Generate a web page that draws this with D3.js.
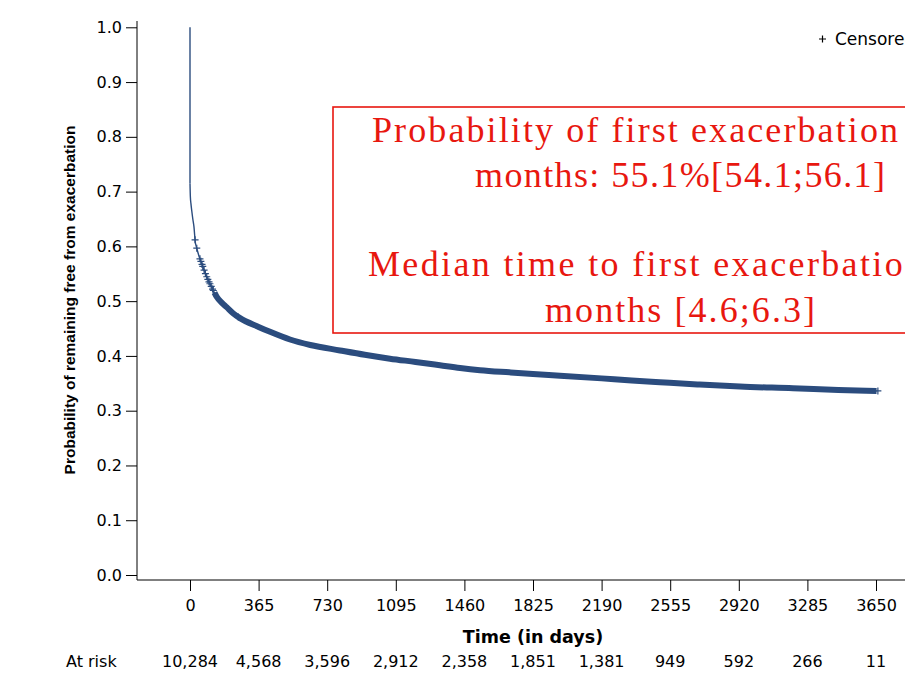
<!DOCTYPE html>
<html lang="en">
<head>
    <meta charset="UTF-8">
    <title>Time to first exacerbation</title>
    <script src="https://d3js.org/d3.v7.min.js"></script>
    <style>
        body { margin: 0; background: #fff; }
        svg { display: block; }
    </style>
</head>
<body>
    <div id="chart"></div>
    <script>
        // Kaplan-Meier estimate (days, survival)
        // the first point is the value before the drop at day 0
        const kmTime = [0, 0, 2, 5, 9, 15, 21, 28, 35, 48, 62, 80, 97, 120, 142, 170, 195, 229, 266, 365, 426, 532, 640, 798, 930, 1064, 1200, 1330, 1437, 1543, 1700, 1825, 1969, 2190, 2350, 2500, 2700, 2926, 3208, 3450, 3653];
        const kmSurv = [1.0, 0.715, 0.69, 0.678, 0.666, 0.65, 0.636, 0.608, 0.598, 0.582, 0.569, 0.552, 0.538, 0.522, 0.508, 0.497, 0.489, 0.478, 0.469, 0.453, 0.444, 0.430, 0.420, 0.410, 0.402, 0.395, 0.389, 0.383, 0.378, 0.374, 0.370, 0.367, 0.364, 0.359, 0.355, 0.352, 0.348, 0.344, 0.341, 0.338, 0.336];

        // sparse censoring early on, then so dense it forms a band
        const censorTimes = [27, 36, 53, 58, 64, 68, 75, 82, 89, 95, 101, 106, 113, 120, 124, 257, 3660];
        const denseCensorFrom = 130;

        const xTicks = [0, 365, 730, 1095, 1460, 1825, 2190, 2555, 2920, 3285, 3650];
        const atRisk = ["10,284", "4,568", "3,596", "2,912", "2,358", "1,851", "1,381", "949", "592", "266", "11"];
        const yTicks = [0, 0.1, 0.2, 0.3, 0.4, 0.5, 0.6, 0.7, 0.8, 0.9, 1.0];

        const noteLines = [
            "Probability of first exacerbation",
            "months: 55.1%[54.1;56.1]",
            "Median time to first exacerbation",
            "months [4.6;6.3]"
        ];

        const curveColor = "#2b4c7e";
        const red = "#e8170f";

        const width = 905, height = 673;
        const x = d3.scaleLinear().domain([0, 3650]).range([190, 876]);
        const y = d3.scaleLinear().domain([0, 1]).range([575, 27.3]);
        const axisX = 137, axisY = 580;

        const svg = d3.select("#chart").append("svg")
            .attr("width", width)
            .attr("height", height)
            .style("font-family", "'DejaVu Sans', sans-serif");

        svg.append("rect").attr("width", width).attr("height", height).attr("fill", "#fff");

        const km = kmTime.map((t, i) => ({ t: t, s: kmSurv[i] }));

        function survAt(t) {
            for (let i = 1; i < km.length; i++) {
                if (km[i].t >= t && km[i].t > km[i - 1].t) {
                    const f = (t - km[i - 1].t) / (km[i].t - km[i - 1].t);
                    return km[i - 1].s + f * (km[i].s - km[i - 1].s);
                }
            }
            return km[km.length - 1].s;
        }

        // annotation box
        svg.append("rect")
            .attr("x", 333).attr("y", 107)
            .attr("width", 640).attr("height", 226)
            .attr("fill", "none")
            .attr("stroke", red)
            .attr("stroke-width", 1.6);

        const notePos = [
            { x: 372, y: 142, len: 526 },
            { x: 475, y: 187, len: 410 },
            { x: 368, y: 276, len: 555 },
            { x: 545, y: 322, len: 270 }
        ];
        svg.append("g").selectAll("text")
            .data(noteLines)
            .enter().append("text")
            .attr("x", (d, i) => notePos[i].x)
            .attr("y", (d, i) => notePos[i].y)
            .attr("textLength", (d, i) => notePos[i].len)
            .attr("lengthAdjust", "spacing")
            .attr("fill", red)
            .style("font-family", "'Liberation Serif', 'Times New Roman', serif")
            .style("font-size", "36px")
            .text(d => d);

        // y axis
        const yAxis = d3.axisLeft(y)
            .tickValues(yTicks)
            .tickFormat(d3.format(".1f"))
            .tickSize(11)
            .tickPadding(4);
        const gy = svg.append("g")
            .attr("transform", `translate(${axisX},0)`)
            .call(yAxis);
        gy.select(".domain").remove();
        gy.selectAll("text").style("font-size", "16px").attr("fill", "#000")
            .style("font-family", "'DejaVu Sans', sans-serif");
        svg.append("line")
            .attr("x1", axisX).attr("x2", axisX)
            .attr("y1", 21).attr("y2", axisY)
            .attr("stroke", "#000");

        // x axis
        const xAxis = d3.axisBottom(x)
            .tickValues(xTicks)
            .tickFormat(d3.format("d"))
            .tickSize(11)
            .tickPadding(9);
        const gx = svg.append("g")
            .attr("transform", `translate(0,${axisY})`)
            .call(xAxis);
        gx.select(".domain").remove();
        gx.selectAll("text").style("font-size", "16px").attr("fill", "#000")
            .style("font-family", "'DejaVu Sans', sans-serif");
        svg.append("line")
            .attr("x1", axisX).attr("x2", width)
            .attr("y1", axisY).attr("y2", axisY)
            .attr("stroke", "#000");

        // axis titles
        svg.append("text")
            .attr("x", x(1825)).attr("y", 643)
            .attr("text-anchor", "middle")
            .style("font-size", "17.5px")
            .style("font-weight", "bold")
            .text("Time (in days)");

        svg.append("text")
            .attr("transform", "translate(75,300) rotate(-90)")
            .attr("text-anchor", "middle")
            .style("font-family", "'Liberation Sans', Arial, sans-serif")
            .style("font-size", "15.5px")
            .style("font-weight", "bold")
            .text("Probability of remaining free from exacerbation");

        // number at risk
        svg.append("text")
            .attr("x", 66).attr("y", 667)
            .style("font-size", "16px")
            .text("At risk");
        svg.append("g").selectAll("text")
            .data(atRisk)
            .enter().append("text")
            .attr("x", (d, i) => x(xTicks[i]))
            .attr("y", 667)
            .attr("text-anchor", "middle")
            .style("font-size", "16px")
            .text(d => d);

        // survival curve: drop at day 0, then a smooth decline
        svg.append("line")
            .attr("x1", x(km[0].t)).attr("x2", x(km[1].t))
            .attr("y1", y(km[0].s)).attr("y2", y(km[1].s))
            .attr("stroke", curveColor)
            .attr("stroke-width", 1.4);

        const line = d3.line().x(d => x(d.t)).y(d => y(d.s)).curve(d3.curveMonotoneX);
        svg.append("path")
            .datum(km.slice(1))
            .attr("d", line)
            .attr("fill", "none")
            .attr("stroke", curveColor)
            .attr("stroke-width", 1.4);

        // dense censoring band
        const band = [{ t: denseCensorFrom, s: survAt(denseCensorFrom) }]
            .concat(km.filter(d => d.t > denseCensorFrom));
        svg.append("path")
            .datum(band)
            .attr("d", line)
            .attr("fill", "none")
            .attr("stroke", curveColor)
            .attr("stroke-width", 6);

        // censor marks
        const plus = (cx, cy, r) => `M${cx - r},${cy}H${cx + r}M${cx},${cy - r}V${cy + r}`;
        svg.append("g").selectAll("path")
            .data(censorTimes)
            .enter().append("path")
            .attr("d", t => plus(x(t), y(survAt(t)), 3.5))
            .attr("stroke", curveColor)
            .attr("stroke-width", 1.2);

        // legend
        svg.append("path")
            .attr("d", plus(822.5, 39, 3.5))
            .attr("stroke", "#000")
            .attr("stroke-width", 1.2);
        svg.append("text")
            .attr("x", 835).attr("y", 45)
            .style("font-size", "17px")
            .text("Censored");
    </script>
</body>
</html>
